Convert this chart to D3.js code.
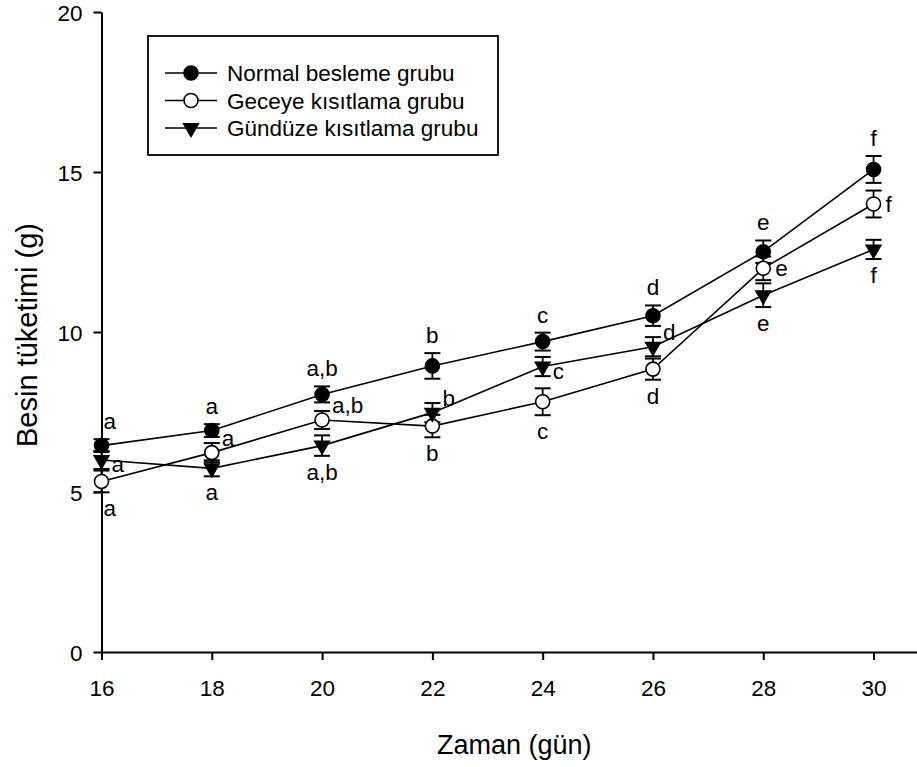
<!DOCTYPE html>
<html>
<head>
<meta charset="utf-8">
<script src="https://cdn.jsdelivr.net/npm/d3@7"></script>
<style>
  html, body { margin: 0; padding: 0; background: #fff; }
  svg { display: block; font-family: "Liberation Sans", Arial, sans-serif; }
</style>
</head>
<body>
<svg id="chart" width="917" height="767"></svg>
<script>
// Days of measurement
const days = [16, 18, 20, 22, 24, 26, 28, 30];

// Mean food intake (g) and standard errors per group
const normalMean  = [6.45, 6.92, 8.05, 8.94, 9.70, 10.51, 12.51, 15.08];
const normalErr   = [0.20, 0.20, 0.25, 0.40, 0.28, 0.32, 0.35, 0.42];
const geceyeMean  = [5.33, 6.23, 7.25, 7.06, 7.82, 8.84, 11.99, 14.00];
const geceyeErr   = [0.34, 0.30, 0.28, 0.35, 0.42, 0.33, 0.37, 0.42];
const gunduzeMean = [6.00, 5.74, 6.45, 7.48, 8.92, 9.54, 11.15, 12.58];
const gunduzeErr  = [0.28, 0.25, 0.32, 0.30, 0.30, 0.30, 0.37, 0.30];

// Significance letters and where each sits relative to its point
const normalLetters  = ["a", "a", "a,b", "b", "c", "d", "e", "f"];
const normalPlace    = ["nr", "n", "n", "n", "n", "n", "n", "n"];
const geceyeLetters  = ["a", "a", "a,b", "b", "c", "d", "e", "f"];
const geceyePlace    = ["sr", "ne", "ne", "s", "s", "s", "e", "e"];
const gunduzeLetters = ["a", "a", "a,b", "b", "c", "d", "e", "f"];
const gunduzePlace   = ["se", "s", "s", "ne", "se", "ne", "s", "s"];

const seriesNames = ["Normal besleme grubu", "Geceye kısıtlama grubu", "Gündüze kısıtlama grubu"];
const xTicks = [16, 18, 20, 22, 24, 26, 28, 30];
const yTicks = [0, 5, 10, 15, 20];
const xTitle = "Zaman (gün)";
const yTitle = "Besin tüketimi (g)";

const series = [
  { name: seriesNames[0], mean: normalMean,  err: normalErr,  letters: normalLetters,  place: normalPlace,  marker: "filled" },
  { name: seriesNames[1], mean: geceyeMean,  err: geceyeErr,  letters: geceyeLetters,  place: geceyePlace,  marker: "open" },
  { name: seriesNames[2], mean: gunduzeMean, err: gunduzeErr, letters: gunduzeLetters, place: gunduzePlace, marker: "triangle" }
];

const svg = d3.select("#chart");

const x = d3.scaleLinear().domain([16, 31]).range([101.5, 928.7]);
const y = d3.scaleLinear().domain([0, 20]).range([652, 12]);

// Axes
const xAxis = d3.axisBottom(x).tickValues(xTicks).tickSize(8).tickSizeOuter(0).tickPadding(20);
const yAxis = d3.axisLeft(y).tickValues(yTicks).tickSize(8).tickSizeOuter(0).tickPadding(11);

const gx = svg.append("g").attr("transform", `translate(0,${y(0)})`).call(xAxis);
const gy = svg.append("g").attr("transform", `translate(${x(16)},0)`).call(yAxis);
[gx, gy].forEach(g => {
  g.select(".domain").attr("stroke", "#000").attr("stroke-width", 2);
  g.selectAll(".tick line").attr("stroke", "#000").attr("stroke-width", 2);
  g.selectAll(".tick text").attr("fill", "#000").style("font-size", "22.5px")
    .style("font-family", "'Liberation Sans', Arial, sans-serif");
});
gy.selectAll(".tick text").attr("dy", "0.36em");

// Axis titles
svg.append("text")
  .attr("x", (x(16) + 917) / 2 + 5).attr("y", 754)
  .attr("text-anchor", "middle")
  .style("font-size", "27px")
  .text(xTitle);

svg.append("text")
  .attr("transform", `translate(37,${(y(0) + y(20)) / 2 + 3}) rotate(-90)`)
  .attr("text-anchor", "middle")
  .style("font-size", "29px")
  .text(yTitle);

// Marker drawing
const triPath = d3.symbol().type(d3.symbolTriangle).size(130)();
function drawMarker(g, kind, cx, cy) {
  if (kind === "triangle") {
    g.append("path").attr("d", triPath)
      .attr("transform", `translate(${cx},${cy}) rotate(180)`)
      .attr("fill", "#000");
  } else {
    g.append("circle").attr("cx", cx).attr("cy", cy).attr("r", 7)
      .attr("fill", kind === "filled" ? "#000" : "#fff")
      .attr("stroke", "#000").attr("stroke-width", 1.6);
  }
}

const line = d3.line().x(d => x(d.day)).y(d => y(d.v));
const plot = svg.append("g");

// Connecting lines
series.forEach(s => {
  const pts = days.map((d, i) => ({ day: d, v: s.mean[i] }));
  plot.append("path").attr("d", line(pts))
    .attr("fill", "none").attr("stroke", "#000").attr("stroke-width", 1.6);
});

// Error bars
const capHalf = 8;
series.forEach(s => {
  days.forEach((d, i) => {
    const cx = x(d), top = y(s.mean[i] + s.err[i]), bot = y(s.mean[i] - s.err[i]);
    plot.append("line").attr("x1", cx).attr("x2", cx).attr("y1", top).attr("y2", bot)
      .attr("stroke", "#000").attr("stroke-width", 1.8);
    [top, bot].forEach(yy => {
      plot.append("line").attr("x1", cx - capHalf).attr("x2", cx + capHalf)
        .attr("y1", yy).attr("y2", yy).attr("stroke", "#000").attr("stroke-width", 2);
    });
  });
});

// Markers
series.forEach(s => {
  days.forEach((d, i) => drawMarker(plot, s.marker, x(d), y(s.mean[i])));
});

// Significance letters
series.forEach(s => {
  days.forEach((d, i) => {
    const cx = x(d), cy = y(s.mean[i]);
    const top = y(s.mean[i] + s.err[i]), bot = y(s.mean[i] - s.err[i]);
    let tx, ty, anchor;
    switch (s.place[i]) {
      case "n":  tx = cx;      ty = top - 10; anchor = "middle"; break;
      case "nr": tx = cx + 2;  ty = top - 10; anchor = "start";  break;
      case "s":  tx = cx;      ty = bot + 24; anchor = "middle"; break;
      case "sr": tx = cx + 2;  ty = bot + 24; anchor = "start";  break;
      case "e":  tx = cx + 12; ty = cy + 8;   anchor = "start";  break;
      case "ne": tx = cx + 10; ty = cy - 7;   anchor = "start";  break;
      case "se": tx = cx + 10; ty = cy + 12;  anchor = "start";  break;
    }
    plot.append("text").attr("x", tx).attr("y", ty).attr("text-anchor", anchor)
      .style("font-size", "22.5px").text(s.letters[i]);
  });
});

// Legend
const legend = svg.append("g");
legend.append("rect").attr("x", 148).attr("y", 36).attr("width", 350).attr("height", 119)
  .attr("fill", "#fff").attr("stroke", "#000").attr("stroke-width", 1.8);
const rowY = [73, 100.5, 128];
series.forEach((s, i) => {
  const ly = rowY[i];
  legend.append("line").attr("x1", 165).attr("x2", 217).attr("y1", ly).attr("y2", ly)
    .attr("stroke", "#000").attr("stroke-width", 1.6);
  drawMarker(legend, s.marker, 191, ly);
  legend.append("text").attr("x", 227).attr("y", ly + 8)
    .style("font-size", "22.5px").text(s.name);
});
</script>
</body>
</html>
